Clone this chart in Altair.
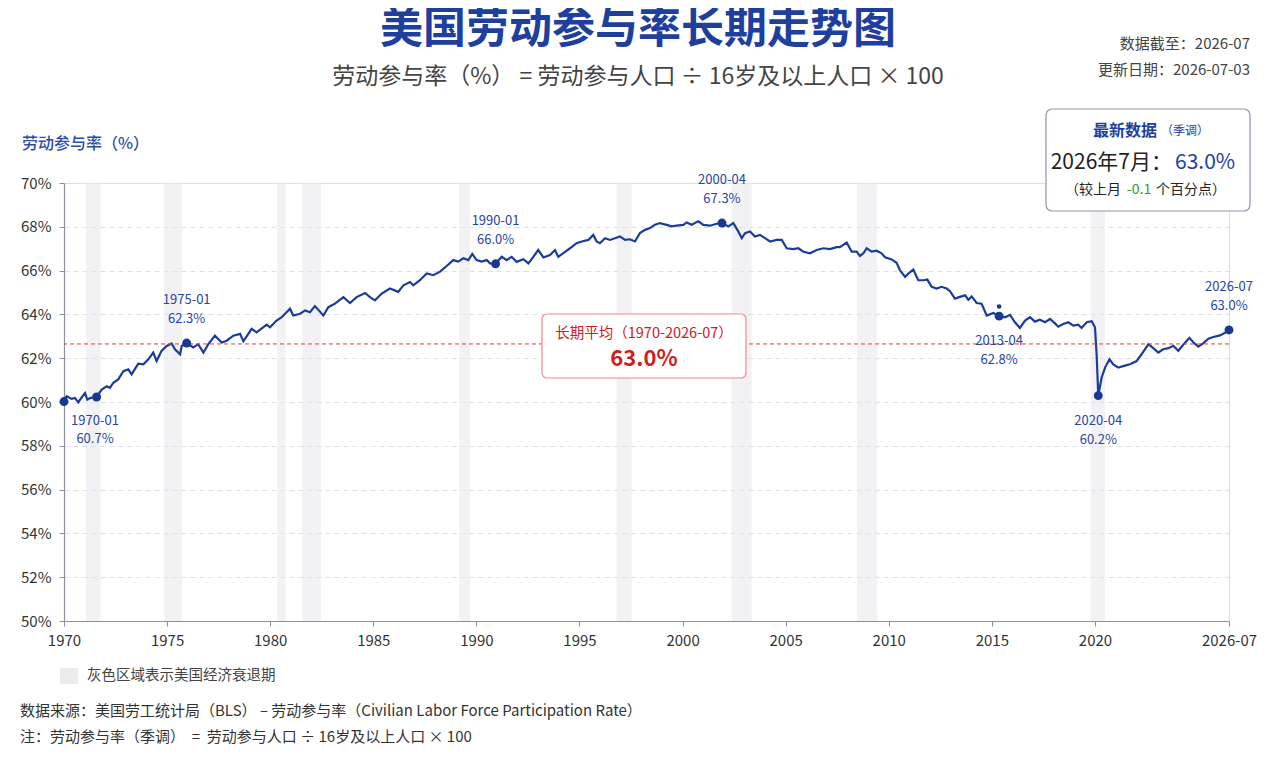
import altair as alt
import pandas as pd

FONT = "Noto Sans CJK SC"
W, H = 1165, 438
BLUE = "#1b3c9a"
NAVY = "#183a8e"
LABEL_BLUE = "#2744a3"

# ---- series (decimal year, %) ----
seg1_years = [1970.00, 1970.13, 1970.37, 1970.53, 1970.70, 1970.81, 1971.02, 1971.13, 1971.26, 1971.58,
              1971.83, 1972.07, 1972.23, 1972.39, 1972.63, 1972.88, 1973.12, 1973.28, 1973.60, 1973.85,
              1974.09, 1974.33, 1974.49, 1974.73, 1974.98, 1975.22, 1975.38, 1975.63, 1975.71, 1975.95,
              1976.27, 1976.51, 1976.76, 1977.00, 1977.32, 1977.65, 1977.89, 1978.21, 1978.54, 1978.70,
              1979.10, 1979.34, 1979.83, 1979.99, 1980.31, 1980.56, 1980.96, 1981.12, 1981.45, 1981.69,
              1981.93, 1982.17, 1982.58, 1982.82, 1983.14, 1983.55, 1983.87, 1984.19, 1984.60, 1984.84,
              1985.08, 1985.41, 1985.81, 1986.21, 1986.46, 1986.78, 1986.94, 1987.26, 1987.59, 1987.91]
seg1_vals = [60.02, 60.26, 60.14, 60.18, 59.98, 60.15, 60.41, 60.11, 60.18, 60.23,
             60.57, 60.72, 60.65, 60.88, 61.03, 61.41, 61.49, 61.26, 61.75, 61.72,
             61.95, 62.26, 61.87, 62.33, 62.56, 62.67, 62.41, 62.18, 62.56, 62.69,
             62.49, 62.64, 62.26, 62.64, 63.03, 62.72, 62.80, 63.03, 63.11, 62.77,
             63.34, 63.18, 63.53, 63.41, 63.72, 63.87, 64.26, 63.95, 64.03, 64.18,
             64.10, 64.38, 63.95, 64.33, 64.49, 64.79, 64.52, 64.79, 64.98, 64.79,
             64.64, 64.95, 65.18, 65.03, 65.33, 65.48, 65.33, 65.56, 65.87, 65.79]

seg2_years = [1988.24, 1988.56, 1988.88, 1989.12, 1989.37, 1989.61, 1989.80, 1990.01, 1990.26, 1990.50,
              1990.66, 1990.93, 1991.23, 1991.47, 1991.71, 1991.95, 1992.28, 1992.52, 1992.76, 1993.00,
              1993.25, 1993.57, 1993.81, 1993.97, 1994.30, 1994.54, 1994.86, 1995.11, 1995.43, 1995.67,
              1995.83, 1995.99, 1996.24, 1996.48, 1996.72, 1996.96, 1997.21, 1997.45, 1997.69, 1997.93,
              1998.18, 1998.42, 1998.66, 1998.90, 1999.23, 1999.47, 1999.71, 2000.04, 2000.20, 2000.44,
              2000.76, 2001.01, 2001.33, 2001.65, 2001.91, 2002.22, 2002.46, 2002.70, 2002.87, 2003.03,
              2003.27, 2003.51, 2003.75, 2004.00, 2004.24, 2004.56, 2004.81, 2005.05, 2005.37, 2005.61,
              2005.86, 2006.18, 2006.50, 2006.83, 2007.15, 2007.47]
seg2_vals = [65.95, 66.21, 66.48, 66.41, 66.56, 66.48, 66.76, 66.48, 66.41, 66.48,
             66.33, 66.31, 66.63, 66.48, 66.63, 66.40, 66.52, 66.33, 66.63, 66.94,
             66.60, 66.71, 66.94, 66.63, 66.86, 67.02, 67.25, 67.33, 67.40, 67.63,
             67.33, 67.25, 67.48, 67.40, 67.48, 67.56, 67.40, 67.43, 67.33, 67.71,
             67.86, 67.94, 68.09, 68.17, 68.09, 68.02, 68.05, 68.09, 68.20, 68.09,
             68.25, 68.09, 68.05, 68.14, 68.17, 68.02, 68.17, 67.79, 67.48, 67.71,
             67.79, 67.56, 67.63, 67.48, 67.33, 67.40, 67.40, 67.02, 66.98, 67.02,
             66.86, 66.79, 66.94, 67.02, 66.98, 67.07]

seg3_years = [2007.63, 2007.96, 2008.20, 2008.44, 2008.60, 2008.77, 2008.93, 2009.17, 2009.41, 2009.65,
              2009.82, 2010.14, 2010.38, 2010.54, 2010.79, 2010.95, 2011.19, 2011.43, 2011.68, 2011.87,
              2012.08, 2012.32, 2012.56, 2012.81, 2012.97, 2013.21, 2013.45, 2013.70, 2013.86, 2014.02,
              2014.26, 2014.50, 2014.75, 2015.07, 2015.35, 2015.64, 2015.88, 2016.12, 2016.36, 2016.61,
              2016.85, 2017.09, 2017.33, 2017.58, 2017.82, 2018.06, 2018.22, 2018.46, 2018.71, 2018.95,
              2019.19, 2019.35, 2019.60, 2019.84, 2020.00, 2020.08, 2020.16, 2020.32, 2020.49, 2020.70,
              2020.89, 2021.13, 2021.37, 2021.70, 2022.02, 2022.26, 2022.59, 2022.83, 2023.07, 2023.31,
              2023.56, 2023.80, 2024.04, 2024.28, 2024.58, 2024.77, 2025.01, 2025.26, 2025.50, 2025.74,
              2026.06, 2026.39, 2026.50]
seg3_vals = [67.07, 67.28, 66.87, 66.87, 66.67, 66.79, 67.02, 66.87, 66.91, 66.79,
             66.61, 66.51, 66.36, 66.02, 65.71, 65.86, 66.05, 65.56, 65.56, 65.59,
             65.26, 65.18, 65.26, 65.18, 65.06, 64.72, 64.80, 64.87, 64.67, 64.82,
             64.52, 64.49, 63.95, 64.07, 63.92, 63.87, 63.98, 63.64, 63.38, 63.72,
             63.87, 63.67, 63.76, 63.64, 63.79, 63.59, 63.44, 63.56, 63.64, 63.49,
             63.53, 63.38, 63.64, 63.69, 63.41, 62.18, 60.29, 61.11, 61.57, 61.95,
             61.72, 61.57, 61.64, 61.72, 61.87, 62.18, 62.64, 62.46, 62.26, 62.41,
             62.46, 62.57, 62.34, 62.61, 62.93, 62.73, 62.53, 62.69, 62.89, 62.97,
             63.04, 63.20, 63.29]

years = seg1_years + seg2_years + seg3_years
lfpr = seg1_vals + seg2_vals + seg3_vals

# recession shading (as drawn)
rec_start = [1971.07, 1974.85, 1980.34, 1981.56, 1989.17, 1996.80, 2002.38, 2008.47, 2019.79]
rec_end = [1971.78, 1975.71, 1980.75, 1982.45, 1989.69, 1997.53, 2003.35, 2009.44, 2020.48]

# highlighted points
marker_years = [1970.00, 1971.58, 1975.95, 1990.93, 2001.91, 2015.35, 2020.16, 2026.50]
marker_vals = [60.02, 60.23, 62.69, 66.31, 68.17, 63.92, 60.29, 63.29]
small_dot_years = [2015.35]
small_dot_vals = [64.36]

above_years = [1975.95, 1990.93, 2001.91, 2026.50]
above_vals = [62.69, 66.31, 68.17, 63.29]
above_dates = ["1975-01", "1990-01", "2000-04", "2026-07"]
above_pcts = ["62.3%", "66.0%", "67.3%", "63.0%"]

below_years = [2015.35, 2020.16]
below_vals = [63.92, 60.29]
below_dates = ["2013-04", "2020-04"]
below_pcts = ["62.8%", "60.2%"]

first_years = [1970.00]
first_vals = [60.02]
first_dates = ["1970-01"]
first_pcts = ["60.7%"]

avg_value = [62.65]

x_ticks = [1970, 1975, 1980, 1985, 1990, 1995, 2000, 2005, 2010, 2015, 2020, 2026.5]
y_ticks = [50, 52, 54, 56, 58, 60, 62, 64, 66, 68, 70]

# ---- frames ----
df = pd.DataFrame({"year": years, "lfpr": lfpr})
rec_df = pd.DataFrame({"year": rec_start, "end": rec_end})
mk_df = pd.DataFrame({"year": marker_years, "v": marker_vals})
sd_df = pd.DataFrame({"year": small_dot_years, "v": small_dot_vals})
ab_df = pd.DataFrame({"year": above_years, "v": above_vals, "d": above_dates, "p": above_pcts})
bl_df = pd.DataFrame({"year": below_years, "v": below_vals, "d": below_dates, "p": below_pcts})
fs_df = pd.DataFrame({"year": first_years, "v": first_vals, "d": first_dates, "p": first_pcts})
avg_df = pd.DataFrame({"v": avg_value})
one = pd.DataFrame({"k": [0]})

xs = alt.Scale(domain=[1970, 2026.5], nice=False, zero=False)
ys = alt.Scale(domain=[50, 70], nice=False, zero=False)

AXC = "#8a90a2"

x_axis = alt.Axis(values=x_ticks, labelExpr="datum.value > 2026 ? '2026-07' : format(datum.value, 'd')",
                  grid=False, domainColor=AXC, tickColor=AXC, tickSize=5, labelFontSize=15,
                  labelColor="#333333", labelPadding=7, title=None, labelFlush=False,
                  labelOverlap=False, labelFont=FONT, domainWidth=1.2)
y_axis = alt.Axis(values=y_ticks, labelExpr="datum.value + '%'", grid=True, gridDash=[5, 4],
                  gridColor="#dadfe9", gridWidth=1, domainColor=AXC, tickColor=AXC, tickSize=5,
                  labelFontSize=15, labelColor="#333333", labelPadding=8, title=None,
                  labelFont=FONT, domainWidth=1.2)

X = alt.X("year:Q", scale=xs, axis=x_axis)
Y = alt.Y("v:Q", scale=ys, axis=y_axis)

rec = alt.Chart(rec_df).mark_rect(color="#e6e6ea", opacity=0.5).encode(
    x=X, x2="end:Q", y=alt.value(0), y2=alt.value(H))

line = alt.Chart(df).mark_line(color=BLUE, strokeWidth=2.2).encode(
    x=X, y=alt.Y("lfpr:Q", scale=ys, axis=y_axis))

avg_rule = alt.Chart(avg_df).mark_rule(color="#e53935", strokeDash=[4, 3], strokeWidth=1).encode(y=Y)

pts = alt.Chart(mk_df).mark_circle(size=80, color=NAVY, opacity=1).encode(x=X, y=Y)
sdot = alt.Chart(sd_df).mark_circle(size=22, color=NAVY, opacity=1).encode(x=X, y=Y)


def ann(data, field, dx, dy):
    return alt.Chart(data).mark_text(fontSize=13, color=LABEL_BLUE, font=FONT, dx=dx, dy=dy,
                                     baseline="middle", align="center").encode(
        x=X, y=Y, text=f"{field}:N")


anns = [ann(ab_df, "d", 0, -43), ann(ab_df, "p", 0, -24),
        ann(bl_df, "d", 0, 25), ann(bl_df, "p", 0, 44),
        ann(fs_df, "d", 31, 19), ann(fs_df, "p", 31, 37)]


def txt(s, x, y, size, color, weight="normal", align="left"):
    return alt.Chart(one).mark_text(text=s, fontSize=size, color=color, fontWeight=weight,
                                    align=align, baseline="middle", font=FONT).encode(
        x=alt.value(x), y=alt.value(y))


def box(x1, x2, y1, y2, stroke, radius):
    return alt.Chart(one).mark_rect(fill="white", stroke=stroke, strokeWidth=1.2,
                                    cornerRadius=radius).encode(
        x=alt.value(x1), x2=alt.value(x2), y=alt.value(y1), y2=alt.value(y2))


NB = "\u00a0"
# page -> plot coords: x-64, y-183
head = [
    txt("美国劳动参与率长期走势图", 574, -153, 43, "#1e3f9d", "bold", "center"),
    txt(f"劳动参与率（%）{NB}={NB}劳动参与人口 ÷ 16岁及以上人口 × 100", 574, -106, 23, "#444444", "normal", "center"),
    txt("数据截至：2026-07", 1186, -139, 15, "#444444", "normal", "right"),
    txt("更新日期：2026-07-03", 1186, -113, 15, "#444444", "normal", "right"),
    txt("劳动参与率（%）", -42, -39, 16, "#2a4cab", 500, "left"),
]
deco = [
    # latest box
    box(982, 1186, -74, 28, "#8f95a8", 6),
    txt("最新数据", 1093, -52, 16, "#1e3f9d", "bold", "right"),
    txt("（季调）", 1097, -52, 12, "#1e3f9d", "normal", "left"),
    txt("2026年7月：", 1108, -20, 21, "#222222", "normal", "right"),
    txt("63.0%", 1111, -20, 21, "#1e40a0", "normal", "left"),
    txt("（较上月", 1057, 7, 14, "#222222", "normal", "right"),
    txt("-0.1", 1075, 7, 14, "#2e9e2e", "normal", "center"),
    txt("个百分点）", 1092, 7, 14, "#222222", "normal", "left"),
    # average box
    box(478, 682, 131, 195, "#ee8a8a", 5),
    txt("长期平均（1970-2026-07）", 580, 151, 14.5, "#cc2020", "normal", "center"),
    txt("63.0%", 580, 176, 22, "#cc2020", "bold", "center"),
    # legend and notes
    alt.Chart(one).mark_rect(color="#ececef").encode(
        x=alt.value(-4), x2=alt.value(14), y=alt.value(485), y2=alt.value(501)),
    txt("灰色区域表示美国经济衰退期", 23, 493, 14.5, "#444444"),
    txt("数据来源：美国劳工统计局（BLS） – 劳动参与率（Civilian Labor Force Participation Rate）",
        -44, 528, 15, "#333333"),
    txt(f"注：劳动参与率（季调）{NB}{NB}={NB}{NB}劳动参与人口 ÷ 16岁及以上人口 × 100", -44, 554, 15, "#333333"),
]

chart = alt.layer(rec, line, avg_rule, *head, pts, sdot, *anns, *deco).properties(
    width=W, height=H,
    padding={"left": 56, "top": 175, "right": 32, "bottom": 133},
    autosize=alt.AutoSizeParams(type="none"),
    background="white",
).configure_view(strokeWidth=0, stroke="transparent").configure(font=FONT)

chart.save("out.html", embed_options={"renderer": "svg", "actions": False})
